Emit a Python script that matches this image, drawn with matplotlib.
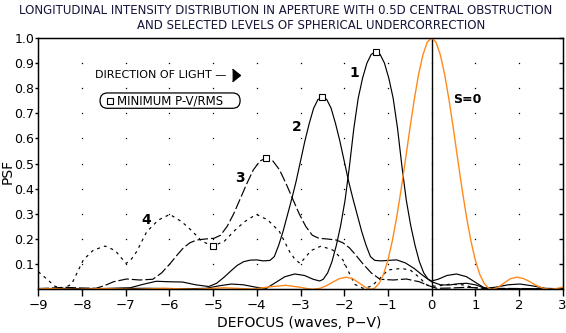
import numpy as np
import matplotlib
matplotlib.use('Agg')
import matplotlib.pyplot as plt
from matplotlib.patches import FancyBboxPatch

# S=0 (no spherical aberration)
s0_x = [-9.0, -8.8, -8.16, -7.5, -6.8, -6.1, -5.44, -4.75, -4.08, -3.7,
        -3.34, -3.0, -2.85, -2.72, -2.55, -2.4, -2.25, -2.1, -1.95, -1.8,
        -1.65, -1.5, -1.38, -1.3, -1.2, -1.1, -1.0, -0.9, -0.8, -0.7,
        -0.6, -0.5, -0.4, -0.3, -0.2, -0.1, 0.0, 0.1, 0.2, 0.3,
        0.4, 0.5, 0.6, 0.7, 0.8, 0.9, 1.0, 1.1, 1.2, 1.3,
        1.38, 1.5, 1.65, 1.8, 1.95, 2.1, 2.25, 2.4, 2.55, 2.72,
        2.85, 3.0]
s0_y = [0.002, 0.003, 0.0, 0.003, 0.0, 0.004, 0.0, 0.006, 0.001, 0.01,
        0.016, 0.008, 0.003, 0.0, 0.004, 0.015, 0.03, 0.043, 0.048, 0.042,
        0.024, 0.006, 0.0, 0.005, 0.024, 0.06, 0.116, 0.192, 0.286, 0.395,
        0.514, 0.636, 0.752, 0.853, 0.932, 0.983, 1.0, 0.983, 0.932, 0.853,
        0.752, 0.636, 0.514, 0.395, 0.286, 0.192, 0.116, 0.06, 0.024, 0.005,
        0.0, 0.006, 0.024, 0.042, 0.048, 0.043, 0.03, 0.015, 0.004, 0.0,
        0.003, 0.008]

# S=1
s1_x = [-9.0, -7.5, -6.5, -5.56, -5.16, -4.86, -4.58, -4.31, -4.01, -3.78,
        -3.56, -3.36, -3.13, -2.91, -2.71, -2.56, -2.48, -2.38, -2.28, -2.18,
        -2.08, -1.98, -1.88, -1.78, -1.68, -1.58, -1.48, -1.38, -1.28, -1.18,
        -1.08, -0.98, -0.88, -0.78, -0.68, -0.58, -0.48, -0.38, -0.28, -0.18,
        -0.08, 0.0, 0.15, 0.35, 0.57, 0.8, 1.0, 1.22, 1.45, 1.75,
        2.02, 2.3, 2.6, 3.0]
s1_y = [0.003, 0.003, 0.004, 0.002, 0.004, 0.014, 0.021, 0.018, 0.008, 0.004,
        0.028, 0.05, 0.061, 0.055, 0.04, 0.033, 0.04, 0.065, 0.11, 0.175,
        0.255, 0.355, 0.49, 0.64, 0.76, 0.84, 0.90, 0.935, 0.943, 0.935,
        0.90, 0.84, 0.76, 0.64, 0.49, 0.355, 0.255, 0.175, 0.11, 0.065,
        0.04, 0.033, 0.04, 0.055, 0.061, 0.05, 0.028, 0.004, 0.008, 0.018,
        0.021, 0.014, 0.004, 0.002]

# S=2
s2_x = [-9.0, -7.5, -6.9, -6.6, -6.3, -6.0, -5.7, -5.4, -5.1, -4.92,
        -4.75, -4.6, -4.45, -4.3, -4.15, -4.0, -3.85, -3.7, -3.6, -3.5,
        -3.4, -3.3, -3.2, -3.1, -3.0, -2.9, -2.8, -2.7, -2.6, -2.5,
        -2.4, -2.3, -2.2, -2.1, -2.0, -1.9, -1.8, -1.7, -1.6, -1.5,
        -1.4, -1.3, -1.15, -1.0, -0.8, -0.6, -0.4, -0.2, 0.0, 0.2,
        0.4, 0.6, 0.8, 1.0, 1.2, 1.4, 2.0, 3.0]
s2_y = [0.003, 0.003, 0.006, 0.02, 0.032, 0.03, 0.029, 0.018, 0.011, 0.024,
        0.048, 0.072, 0.095, 0.11, 0.116, 0.117, 0.113, 0.115, 0.13, 0.175,
        0.23, 0.295, 0.36, 0.43, 0.51, 0.59, 0.66, 0.72, 0.755, 0.764,
        0.755, 0.72, 0.66, 0.59, 0.51, 0.43, 0.36, 0.295, 0.23, 0.175,
        0.13, 0.115, 0.113, 0.115, 0.117, 0.105, 0.083, 0.055, 0.03, 0.018,
        0.017, 0.022, 0.024, 0.018, 0.006, 0.002, 0.002, 0.002]

# S=3
s3_x = [-9.0, -8.8, -8.4, -8.0, -7.68, -7.48, -7.28, -6.98, -6.68, -6.38,
        -6.18, -5.98, -5.83, -5.68, -5.53, -5.38, -5.18, -4.98, -4.83, -4.68,
        -4.53, -4.38, -4.23, -4.08, -3.93, -3.78, -3.63, -3.48, -3.33, -3.18,
        -3.03, -2.88, -2.73, -2.58, -2.38, -2.18, -2.03, -1.88, -1.73, -1.58,
        -1.38, -1.18, -0.88, -0.58, -0.28, -0.08, 0.12, 0.42, 0.82, 1.22,
        3.0]
s3_y = [0.003, 0.004, 0.008, 0.005, 0.004, 0.015, 0.03, 0.041, 0.037, 0.04,
        0.065, 0.103, 0.135, 0.165, 0.185, 0.196, 0.2, 0.203, 0.215, 0.25,
        0.30, 0.36, 0.42, 0.475, 0.51, 0.523, 0.51, 0.475, 0.42, 0.36,
        0.30, 0.25, 0.215, 0.203, 0.2, 0.196, 0.185, 0.165, 0.135, 0.103,
        0.065, 0.04, 0.037, 0.041, 0.03, 0.015, 0.004, 0.005, 0.008, 0.004,
        0.002]

# S=4
s4_x = [-9.0, -8.8, -8.62, -8.43, -8.24, -8.1, -7.97, -7.74, -7.47, -7.24,
        -7.1, -6.99, -6.87, -6.75, -6.52, -6.25, -5.99, -5.72, -5.5, -5.25,
        -5.0, -4.75, -4.5, -4.28, -4.01, -3.75, -3.48, -3.25, -3.13, -3.01,
        -2.9, -2.76, -2.53, -2.26, -2.03, -1.9, -1.76, -1.57, -1.38, -1.2,
        -1.0, -0.7, -0.49, -0.3, -0.11, 0.1, 0.4, 0.7, 1.0, 1.3,
        3.0]
s4_y = [0.07, 0.04, 0.012, 0.004, 0.02, 0.07, 0.117, 0.156, 0.172, 0.154,
        0.125, 0.103, 0.12, 0.15, 0.229, 0.276, 0.298, 0.269, 0.235, 0.19,
        0.173, 0.19, 0.235, 0.269, 0.298, 0.276, 0.229, 0.15, 0.12, 0.103,
        0.125, 0.154, 0.172, 0.156, 0.117, 0.07, 0.02, 0.004, 0.012, 0.04,
        0.077, 0.083, 0.077, 0.05, 0.017, 0.012, 0.02, 0.018, 0.006, 0.002,
        0.002]

# minimum P-V / RMS points
min_x = [-1.28, -2.5, -3.78, -5.0]
min_y = [0.943, 0.764, 0.523, 0.173]

xticks = list(range(-9, 4))
yticks = [0.1, 0.2, 0.3, 0.4, 0.5, 0.6, 0.7, 0.8, 0.9, 1.0]

fig = plt.figure(figsize=(5.66, 3.33), dpi=100)
ax = fig.add_axes([0.0677, 0.1312, 0.9265, 0.755])

# dotted grid
gx, gy = np.meshgrid(xticks[1:-1], yticks[:-1])
ax.plot(gx.ravel(), gy.ravel(), ls='none', marker='s', ms=0.9, mew=0, color='black')

ax.axvline(0, color='black', lw=1)
ax.plot(s1_x, s1_y, color='black', lw=0.85)
ax.plot(s2_x, s2_y, color='black', lw=0.85)
ax.plot(s3_x, s3_y, color='black', lw=0.85, dashes=(9, 2.5))
ax.plot(s4_x, s4_y, color='black', lw=0.85, dashes=(2.5, 3.5))
ax.plot(s0_x, s0_y, color='#ff8a1c', lw=1.0)
ax.plot(min_x, min_y, ls='none', marker='s', ms=4.5, mfc='white', mec='black', mew=0.8)

ax.set_xlim(-9, 3)
ax.set_ylim(0, 1)
ax.set_xticks(xticks)
ax.set_yticks(yticks)
ax.set_yticklabels([f'{v:.1f}' for v in yticks])
ax.tick_params(axis='x', direction='out', length=5, width=1, labelsize=9.5, pad=2)
ax.tick_params(axis='y', direction='out', length=2, width=1, labelsize=9, pad=1)
for s in ax.spines.values():
    s.set_linewidth(1)

ax2 = ax.twinx()
ax2.set_ylim(0, 1)
ax2.set_yticks(yticks)
ax2.tick_params(axis='y', direction='in', length=3, width=1, labelright=False)

# curve labels
ax.text(-1.77, 0.86, '1', fontsize=10, fontweight='bold', ha='center', va='center')
ax.text(-3.09, 0.646, '2', fontsize=10, fontweight='bold', ha='center', va='center')
ax.text(-4.38, 0.443, '3', fontsize=10, fontweight='bold', ha='center', va='center')
ax.text(-6.52, 0.276, '4', fontsize=10, fontweight='bold', ha='center', va='center')
ax.text(0.82, 0.754, 'S=0', fontsize=9, fontweight='bold', ha='center', va='center')

# direction of light
ax.text(-7.70, 0.853, 'DIRECTION OF LIGHT \u2014', fontsize=8, ha='left', va='center')
ax.plot([-4.48], [0.853], marker=[(-1, -1.6), (1, 0), (-1, 1.6)], ms=9, color='black')

# legend pill
pill = FancyBboxPatch((-7.587, 0.720), 3.204, 0.061,
                      boxstyle='round,pad=0,rounding_size=0.172',
                      mutation_aspect=0.1738, fc='white', ec='black', lw=0.9)
ax.add_patch(pill)
ax.plot([-7.36], [0.7505], ls='none', marker='s', ms=4.2, mfc='white', mec='black', mew=0.8)
ax.text(-7.19, 0.7505, 'MINIMUM P-V/RMS', fontsize=8.5, ha='left', va='center')

fig.text(0.505, 0.968, 'LONGITUDINAL INTENSITY DISTRIBUTION IN APERTURE WITH 0.5D CENTRAL OBSTRUCTION',
         ha='center', va='center', fontsize=8.5, color='#15153a')
fig.text(0.5495, 0.923, 'AND SELECTED LEVELS OF SPHERICAL UNDERCORRECTION',
         ha='center', va='center', fontsize=8.5, color='#15153a')
fig.text(8 / 566, 1 - 171 / 333, 'PSF', rotation=90, ha='center', va='center', fontsize=10)
fig.text(299 / 566, 1 - 323 / 333, 'DEFOCUS (waves, P\u2212V)', ha='center', va='center', fontsize=10)

fig.savefig('out.png', dpi=100)
